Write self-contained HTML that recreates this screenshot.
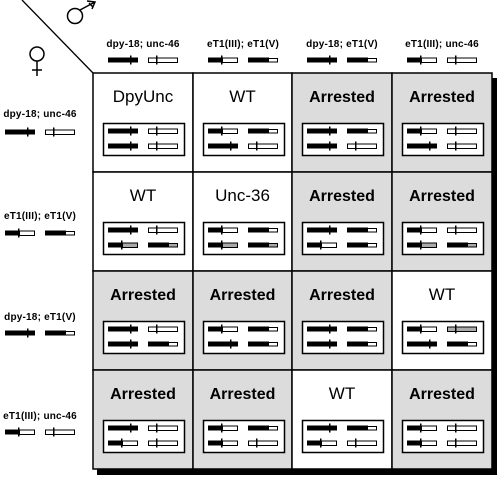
<!DOCTYPE html>
<html><head><meta charset="utf-8"><style>
html,body{margin:0;padding:0;background:#fff;width:500px;height:480px;overflow:hidden}
svg{display:block}
text{font-family:"Liberation Sans",sans-serif}
</style></head><body>
<svg id="s" width="500" height="480" xmlns="http://www.w3.org/2000/svg">
<rect x="97" y="78" width="400" height="397" fill="#000"/>
<line x1="22" y1="0" x2="93" y2="73" stroke="#000" stroke-width="1.3"/>
<circle cx="75" cy="16" r="7.5" fill="none" stroke="#000" stroke-width="1.5"/>
<path d="M80,10 L95,2 M87,1 L95,2 L92,9 M89,3 L93,7" fill="none" stroke="#000" stroke-width="1.5"/>
<circle cx="37" cy="54" r="7" fill="none" stroke="#000" stroke-width="1.5"/>
<path d="M37,61 V76 M32,70 H42" stroke="#000" stroke-width="1.5"/>
<g id="g"></g>
</svg>
<script>
var g=document.getElementById('g'),h='';
var X=[93,193,292,392,492],Y=[73,172,271,370,469];
function glyph(t,x,y,grey){
 var f=grey?'#aaa':'#fff',s='';
 if(t=='A'){s+='<rect x="'+x+'" y="'+(y-2.5)+'" width="30" height="5" fill="#000"/><rect x="'+(x+22)+'" y="'+(y-4.5)+'" width="1.5" height="9" fill="#000"/>';}
 if(t=='B'){s+='<rect x="'+(x+.5)+'" y="'+(y-2)+'" width="29" height="4.5" fill="'+f+'" stroke="#000" stroke-width="1"/><rect x="'+(x+8)+'" y="'+(y-4.5)+'" width="1.5" height="9" fill="#000"/>';}
 if(t=='C'){s+='<rect x="'+(x+14)+'" y="'+(y-2)+'" width="15.5" height="4.5" fill="'+f+'" stroke="#000" stroke-width="1"/><rect x="'+x+'" y="'+(y-2.5)+'" width="15" height="5" fill="#000"/><rect x="'+(x+13)+'" y="'+(y-4.5)+'" width="1.5" height="9" fill="#000"/>';}
 if(t=='D'){s+='<rect x="'+(x+20)+'" y="'+(y-1.5)+'" width="9.5" height="3.5" fill="'+f+'" stroke="#000" stroke-width="1"/><rect x="'+x+'" y="'+(y-2.5)+'" width="21" height="5" fill="#000"/>';}
 return s;
}
var hdr=[['dpy-18; unc-46','A','B'],['eT1(III); eT1(V)','C','D'],['dpy-18; eT1(V)','A','D'],['eT1(III); unc-46','C','B']];
for(var i=0;i<4;i++){
 var cx=X[i]+50;
 h+='<text x="'+cx+'" y="47" font-size="10" font-weight="bold" letter-spacing="0.2" text-anchor="middle">'+hdr[i][0]+'</text>';
 h+=glyph(hdr[i][1],X[i]+15,60)+glyph(hdr[i][2],X[i]+55,60);
 var ty=[114,216,317,416][i],gy=[132,233,333,432][i];
 h+='<text x="40" y="'+(ty+3)+'" font-size="10" font-weight="bold" letter-spacing="0.2" text-anchor="middle">'+hdr[i][0]+'</text>';
 h+=glyph(hdr[i][1],5,gy)+glyph(hdr[i][2],45,gy);
}
var cells=[
[['DpyUnc',0,'A','B','A','B'],['WT',0,'C','D','A','B'],['Arrested',1,'A','D','A','B'],['Arrested',1,'C','B','A','B']],
[['WT',0,'A','B','Cg','Dg'],['Unc-36',0,'C','D','Cg','Dg'],['Arrested',1,'A','D','C','D'],['Arrested',1,'C','B','Cg','Dg']],
[['Arrested',1,'A','B','A','D'],['Arrested',1,'C','D','A','D'],['Arrested',1,'A','D','A','D'],['WT',0,'C','Bg','A','D']],
[['Arrested',1,'A','B','C','B'],['Arrested',1,'C','D','C','B'],['WT',0,'A','D','C','B'],['Arrested',1,'C','B','C','B']]];
for(var r=0;r<4;r++)for(var c=0;c<4;c++){
 var d=cells[r][c],x=X[c],y=Y[r],w=X[c+1]-x,hh=Y[r+1]-y;
 h+='<rect x="'+x+'" y="'+y+'" width="'+w+'" height="'+hh+'" fill="'+(d[1]?'#dcdcdc':'#fff')+'" stroke="#000" stroke-width="1.5"/>';
 h+='<text x="'+(x+w/2)+'" y="'+(y+29)+'" font-size="'+(d[1]?16:17)+'" font-weight="'+(d[1]?'bold':'normal')+'" text-anchor="middle">'+d[0]+'</text>';
 h+='<rect x="'+(x+10.5)+'" y="'+(y+50.5)+'" width="81" height="32" fill="#fff" stroke="#000" stroke-width="1.5"/>';
 function gg(t,gx,gy){return glyph(t[0],gx,gy,t.length>1);}
 h+=gg(d[2],x+15,y+58)+gg(d[3],x+55,y+58)+gg(d[4],x+15,y+73)+gg(d[5],x+55,y+73);
}
g.innerHTML=h;
</script>
</body></html>
